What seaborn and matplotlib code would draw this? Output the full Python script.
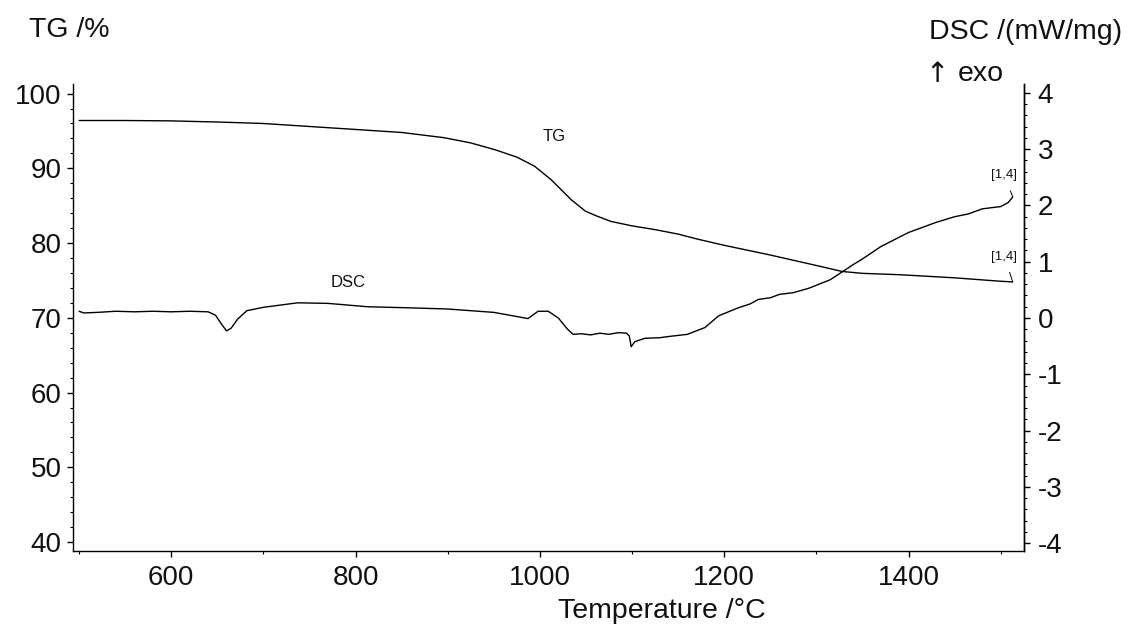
import matplotlib
matplotlib.use("Agg")
import matplotlib.pyplot as plt
from matplotlib.ticker import MultipleLocator
import seaborn as sns
import pandas as pd

# Thermogravimetric (TG) mass curve
tg_temp = [500, 550, 600, 632, 650, 700, 750, 800, 850, 896, 925, 951, 975, 994,
           1012, 1034, 1049, 1060, 1077, 1100, 1125, 1150, 1172, 1200, 1250,
           1300, 1328, 1350, 1390, 1450, 1499, 1513]
tg_mass = [96.4, 96.4, 96.35, 96.25, 96.2, 96.0, 95.6, 95.2, 94.8, 94.1, 93.4,
           92.5, 91.5, 90.3, 88.5, 85.8, 84.3, 83.7, 82.9, 82.3, 81.8, 81.2,
           80.5, 79.7, 78.4, 77.0, 76.2, 75.95, 75.77, 75.35, 74.9, 74.8]

# DSC heat flow curve
dsc_temp = [500, 505, 520, 540, 560, 580, 600, 620, 640, 648, 655, 660, 665, 672,
            682, 700, 737, 770, 813, 860, 900, 950, 987, 998, 1009, 1020, 1030,
            1036, 1045, 1055, 1065, 1075, 1085, 1094, 1097, 1099, 1103, 1114,
            1130, 1139, 1160, 1179, 1194, 1215, 1228, 1237, 1250, 1260, 1275,
            1292, 1315, 1328, 1340, 1350, 1370, 1400, 1430, 1450, 1465, 1480,
            1500, 1508, 1513]
dsc_flow = [0.12, 0.09, 0.10, 0.12, 0.11, 0.12, 0.11, 0.12, 0.11, 0.05, -0.12,
            -0.23, -0.18, -0.02, 0.13, 0.19, 0.27, 0.26, 0.20, 0.18, 0.16, 0.10,
            -0.01, 0.12, 0.12, 0.0, -0.20, -0.29, -0.28, -0.30, -0.27, -0.29,
            -0.26, -0.27, -0.32, -0.51, -0.42, -0.36, -0.35, -0.33, -0.29,
            -0.17, 0.04, 0.18, 0.25, 0.33, 0.36, 0.42, 0.45, 0.53, 0.68, 0.82,
            0.95, 1.05, 1.27, 1.52, 1.70, 1.80, 1.85, 1.94, 1.98, 2.05, 2.15]

tg_df = pd.DataFrame({"temp": tg_temp, "mass": tg_mass})
dsc_df = pd.DataFrame({"temp": dsc_temp, "flow": dsc_flow})

sns.set_style("ticks")
plt.rcParams["font.family"] = ["Liberation Sans", "DejaVu Sans"]
plt.rcParams["axes.unicode_minus"] = False

fig = plt.figure(figsize=(11.3, 6.26), dpi=100)
ax = fig.add_axes([0.0643, 0.1198, 0.8417, 0.7462])
ax2 = ax.twinx()

sns.lineplot(data=tg_df, x="temp", y="mass", ax=ax, color="black", lw=1.0)
sns.lineplot(data=dsc_df, x="temp", y="flow", ax=ax2, color="black", lw=1.0)

ax.set_xlim(493, 1525)
ax.set_ylim(38.8, 101.3)
ax2.set_ylim(-4.14, 4.16)

ax.xaxis.set_major_locator(MultipleLocator(200))
ax.xaxis.set_minor_locator(MultipleLocator(100))
ax.yaxis.set_major_locator(MultipleLocator(10))
ax.yaxis.set_minor_locator(MultipleLocator(2))
ax2.yaxis.set_major_locator(MultipleLocator(1))
ax2.yaxis.set_minor_locator(MultipleLocator(0.2))

for a in (ax, ax2):
    a.spines["top"].set_visible(False)
    for s in a.spines.values():
        s.set_linewidth(1.0)
        s.set_color("black")
    a.tick_params(which="major", length=4, width=1.0, labelsize=20, pad=4,
                  color="black", labelcolor="#111111")
    a.tick_params(which="minor", length=2.5, width=0.8, color="black")
    a.set_xlabel("")
    a.set_ylabel("")
ax.tick_params(axis="x", which="major", pad=6)
ax2.spines["left"].set_visible(False)
ax2.spines["bottom"].set_visible(False)
ax2.tick_params(axis="y", which="major", pad=6)

# Curve labels
ax.text(1015, 94.2, "TG", fontsize=12, ha="center", va="center", color="#111111")
ax.text(792, 74.7, "DSC", fontsize=12, ha="center", va="center", color="#111111")

# End-point value markers with leader lines
ax.annotate("[1,4]", xy=(tg_temp[-1], tg_mass[-1]), xytext=(1504, 78.2),
            fontsize=9.5, ha="center", va="center", color="#111111",
            arrowprops=dict(arrowstyle="-", lw=0.7, color="black",
                            shrinkA=5, shrinkB=0))
ax2.annotate("[1,4]", xy=(dsc_temp[-1], dsc_flow[-1]), xytext=(1504, 2.54),
             fontsize=9.5, ha="center", va="center", color="#111111",
             arrowprops=dict(arrowstyle="-", lw=0.7, color="black",
                             shrinkA=5, shrinkB=0))

# Axis titles
fig.text(0.0257, 0.952, "TG /%", fontsize=20.5, ha="left", va="center", color="#111111")
fig.text(0.993, 0.949, "DSC /(mW/mg)", fontsize=20.5, ha="right", va="center",
         color="#111111")
fig.text(0.819, 0.882, "\u2191", fontsize=20, ha="left", va="center",
         color="#111111", family=["DejaVu Sans"])
fig.text(0.848, 0.882, "exo", fontsize=20.5, ha="left", va="center", color="#111111")
fig.text(0.586, 0.024, "Temperature /\u00b0C", fontsize=20.5, ha="center", va="center",
         color="#111111")

fig.savefig("out.png", dpi=100, facecolor="white")
